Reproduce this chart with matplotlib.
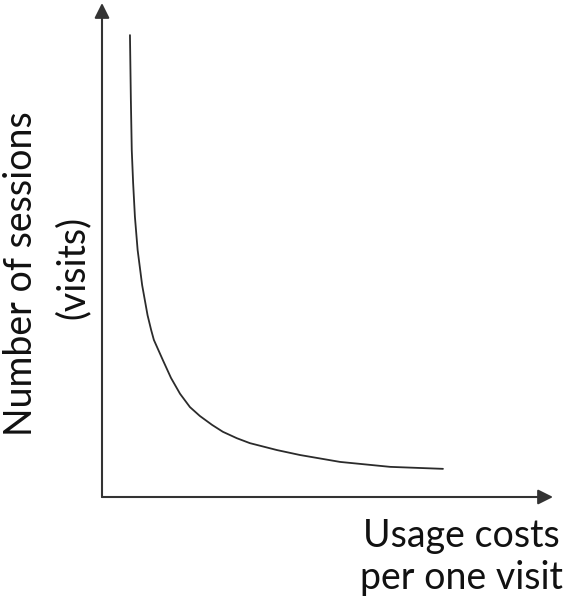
import matplotlib.pyplot as plt

# usage cost per visit vs number of sessions (arbitrary units)
cost = [0.62, 0.64, 0.66, 0.69, 0.73, 0.79, 0.89, 1.01, 1.09, 1.15, 1.35, 1.53, 1.73,
        1.95, 2.17, 2.44, 2.68, 2.99, 3.28, 3.88, 4.39, 5.28, 6.39, 7.56]
sessions = [9.35, 8.04, 7.02, 6.36, 5.67, 5.00, 4.29, 3.68, 3.38, 3.18, 2.77, 2.41, 2.09,
            1.82, 1.64, 1.46, 1.32, 1.19, 1.09, 0.95, 0.85, 0.71, 0.61, 0.57]

x_label = ["Usage costs", "per one visit"]
y_label = ["Number of sessions", "(visits)"]

W, H = 565, 602
FONT = ["Lato", "DejaVu Sans"]
AXIS_COLOR = "#333333"
TEXT_COLOR = "#111111"

fig = plt.figure(figsize=(W / 100, H / 100), dpi=100)

# plotting area: origin at the corner of the two arrows
ax = fig.add_axes([102 / W, (H - 497) / H, 451 / W, 494 / H])
ax.set_xlim(0, 10)
ax.set_ylim(0, 10)
ax.axis("off")
ax.plot(cost, sessions, color="#2b2b2b", lw=1.3, solid_capstyle="round", solid_joinstyle="round")

arrow = dict(arrowstyle="-|>,head_length=0.9,head_width=0.45", mutation_scale=10,
             color=AXIS_COLOR, lw=1.5, shrinkA=0, shrinkB=0)
ax.annotate("", xy=(0, 1), xytext=(0, 0), xycoords="axes fraction", arrowprops=arrow)
ax.annotate("", xy=(1, 0), xytext=(0, 0), xycoords="axes fraction", arrowprops=arrow)

# overlay in pixel units for the labels
lab = fig.add_axes([0, 0, 1, 1], zorder=-1)
lab.set_xlim(0, W)
lab.set_ylim(H, 0)
lab.axis("off")

fs = 27
lab.text(560, 547, x_label[0], ha="right", va="baseline", fontsize=fs, family=FONT, color=TEXT_COLOR)
lab.text(563, 589, x_label[1], ha="right", va="baseline", fontsize=fs, family=FONT, color=TEXT_COLOR)
lab.text(32, 274, y_label[0], rotation=90, rotation_mode="anchor", ha="center", va="baseline",
         fontsize=fs, family=FONT, color=TEXT_COLOR)
lab.text(84, 267, y_label[1], rotation=90, rotation_mode="anchor", ha="center", va="baseline",
         fontsize=fs, family=FONT, color=TEXT_COLOR)

fig.savefig("out.png", dpi=100)
